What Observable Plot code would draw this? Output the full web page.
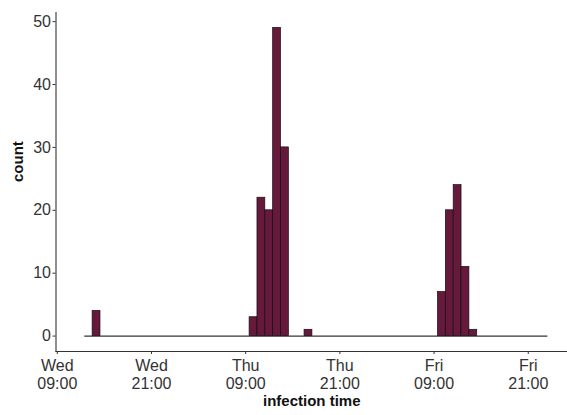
<!DOCTYPE html>
<html>
<head>
<meta charset="utf-8">
<script src="https://cdn.jsdelivr.net/npm/d3@7"></script>
<script src="https://cdn.jsdelivr.net/npm/@observablehq/plot@0.6"></script>
<style>
  html, body { margin: 0; padding: 0; background: #fff; }
  #chart svg { display: block; }
</style>
</head>
<body>
<div id="chart"></div>
<script>
// Histogram of infection times: 1-hour bins starting Wed 12:30
const firstBinStart = "2020-01-01T12:30:00Z"; // Wednesday
const binWidthHours = 1;
const counts = [
  0, 4, 0, 0, 0, 0, 0, 0, 0, 0,
  0, 0, 0, 0, 0, 0, 0, 0, 0, 0,
  0, 3, 22, 20, 49, 30, 0, 0, 1, 0,
  0, 0, 0, 0, 0, 0, 0, 0, 0, 0,
  0, 0, 0, 0, 0, 7, 20, 24, 11, 1,
  0, 0, 0, 0, 0, 0, 0, 0, 0
];
const xTicks = [
  "2020-01-01T09:00:00Z", "2020-01-01T21:00:00Z",
  "2020-01-02T09:00:00Z", "2020-01-02T21:00:00Z",
  "2020-01-03T09:00:00Z", "2020-01-03T21:00:00Z"
];
const yTicks = [0, 10, 20, 30, 40, 50];
const xDomain = ["2020-01-01T08:50:00Z", "2020-01-04T02:00:00Z"];
const yDomain = [-2.45, 51.45];

const t0 = new Date(firstBinStart).getTime();
const HOUR = 3600 * 1000;
const bins = counts.map((c, i) => ({
  x1: new Date(t0 + i * binWidthHours * HOUR),
  x2: new Date(t0 + (i + 1) * binWidthHours * HOUR),
  count: c
}));
const baseline = [{x1: bins[0].x1, x2: bins[bins.length - 1].x2, y: 0}];

const fmt = d3.utcFormat("%a\n%H:%M");

const chart = Plot.plot({
  width: 567,
  height: 415,
  marginLeft: 55.5,
  marginRight: 0,
  marginTop: 12,
  marginBottom: 64,
  style: {fontFamily: "'Liberation Sans', Arial, sans-serif", fontSize: "16px", background: "#fff"},
  x: {type: "utc", domain: xDomain.map(d => new Date(d))},
  y: {domain: yDomain},
  marks: [
    Plot.ruleY(baseline, {x1: "x1", x2: "x2", y: "y", stroke: "#333", strokeWidth: 1.1}),
    Plot.rectY(bins.filter(d => d.count > 0), {
      x1: "x1", x2: "x2", y: "count",
      fill: "#651a3b", stroke: "#1a0a10", strokeWidth: 0.7
    }),
    Plot.axisY({
      ticks: yTicks, tickSize: 3, tickPadding: 2, label: null,
      fontSize: 16, color: "#333", stroke: "#333"
    }),
    Plot.axisX({
      ticks: xTicks.map(d => new Date(d)), tickFormat: fmt,
      tickSize: 3, tickPadding: 3, label: null, lineHeight: 1.15,
      fontSize: 16, color: "#333", stroke: "#333"
    }),
    Plot.frame({anchor: "left", stroke: "#333", strokeWidth: 1.1}),
    Plot.frame({anchor: "bottom", stroke: "#333", strokeWidth: 1.1}),
    Plot.text(["count"], {
      frameAnchor: "left", dx: -38, rotate: -90,
      fontWeight: "bold", fontSize: 15, fill: "#111"
    }),
    Plot.text(["infection time"], {
      frameAnchor: "bottom", dy: 54,
      fontWeight: "bold", fontSize: 15, fill: "#111"
    })
  ]
});
document.getElementById("chart").appendChild(chart);
</script>
</body>
</html>
